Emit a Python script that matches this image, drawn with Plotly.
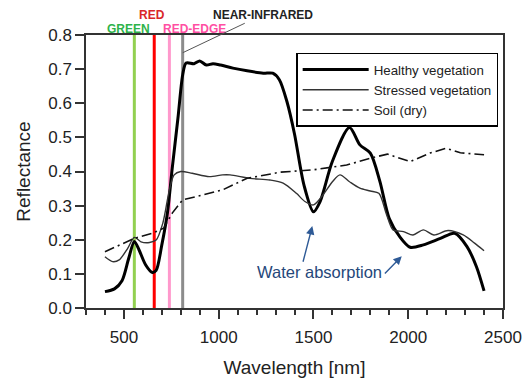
import plotly.graph_objects as go

# Data
healthy_wl = [400, 450, 490, 525, 555, 580, 615, 650, 670, 700, 730, 755, 785, 810, 828, 870, 900,
              935, 970, 1010, 1075, 1150, 1235, 1285, 1320, 1360, 1400, 1450, 1500, 1535, 1600,
              1690, 1745, 1800, 1850, 1900, 1955, 2010, 2080, 2170, 2245, 2310, 2360, 2400]
healthy_val = [0.048, 0.056, 0.080, 0.145, 0.195, 0.170, 0.126, 0.104, 0.110, 0.185, 0.280, 0.410,
               0.556, 0.683, 0.718, 0.716, 0.724, 0.712, 0.716, 0.712, 0.703, 0.695, 0.688, 0.688,
               0.669, 0.605, 0.510, 0.360, 0.282, 0.312, 0.430, 0.529, 0.478, 0.454, 0.372, 0.262,
               0.209, 0.178, 0.185, 0.204, 0.219, 0.180, 0.121, 0.050]

stressed_wl = [400, 440, 475, 520, 555, 590, 635, 670, 705, 740, 765, 800, 860, 950, 1020, 1060,
               1165, 1270, 1340, 1410, 1455, 1500, 1550, 1600, 1640, 1690, 1745, 1800, 1845, 1885,
               1920, 1975, 2025, 2080, 2135, 2210, 2290, 2350, 2400]
stressed_val = [0.150, 0.136, 0.141, 0.175, 0.207, 0.194, 0.192, 0.199, 0.248, 0.346, 0.390, 0.400,
                0.395, 0.385, 0.390, 0.390, 0.380, 0.375, 0.366, 0.336, 0.312, 0.302, 0.331, 0.370,
                0.390, 0.370, 0.351, 0.343, 0.336, 0.275, 0.229, 0.224, 0.214, 0.229, 0.214, 0.227,
                0.214, 0.190, 0.168]

soil_wl = [400, 475, 555, 650, 710, 755, 810, 880, 1020, 1150, 1325, 1500, 1675, 1800, 1890,
           2010, 2115, 2200, 2275, 2400]
soil_val = [0.165, 0.185, 0.204, 0.219, 0.234, 0.278, 0.317, 0.326, 0.346, 0.380, 0.398, 0.405,
            0.419, 0.439, 0.451, 0.429, 0.454, 0.468, 0.455, 0.449]

band_names = ["GREEN", "RED", "RED-EDGE", "NEAR-INFRARED"]
band_wl = [555, 660, 740, 810]
band_line_colors = ["#92d050", "#ff0000", "#ff99cc", "#8c8c8c"]
band_text_colors = ["#2eb34a", "#d9262a", "#ff4fa3", "#222222"]

x_ticks = [500, 1000, 1500, 2000, 2500]
y_ticks = [0.0, 0.1, 0.2, 0.3, 0.4, 0.5, 0.6, 0.7, 0.8]

FONT = "Arial, Liberation Sans, sans-serif"

fig = go.Figure()

# Band lines (drawn below curves)
for wl, col in zip(band_wl, band_line_colors):
    fig.add_shape(type="line", xref="x", yref="y", x0=wl, x1=wl, y0=0, y1=0.8,
                  line=dict(color=col, width=3), layer="below")

fig.add_trace(go.Scatter(x=healthy_wl, y=healthy_val, mode="lines", name="Healthy vegetation",
                         line=dict(color="black", width=3, shape="spline", smoothing=0.8)))
fig.add_trace(go.Scatter(x=stressed_wl, y=stressed_val, mode="lines", name="Stressed vegetation",
                         line=dict(color="#333333", width=1.4, shape="spline", smoothing=0.8)))
fig.add_trace(go.Scatter(x=soil_wl, y=soil_val, mode="lines", name="Soil (dry)",
                         line=dict(color="#111111", width=1.6, dash="10px,4px,2px,4px")))

# Band labels
label_pos = {"GREEN": (522, 1.022), "RED": (648, 1.073), "RED-EDGE": (875, 1.022)}
for name, col in zip(band_names, band_text_colors):
    if name in label_pos:
        x, y = label_pos[name]
        fig.add_annotation(x=x, y=y, xref="x", yref="paper", yanchor="middle",
                           text=f"<b>{name}</b>", showarrow=False,
                           font=dict(family=FONT, size=12, color=col))
fig.add_annotation(x=band_wl[3], y=0.748, xref="x", yref="y", text="<b>NEAR-INFRARED</b>",
                   showarrow=True, arrowhead=0, arrowwidth=1, arrowcolor="#555555",
                   ax=80, ay=-38, font=dict(family=FONT, size=12, color=band_text_colors[3]))

# Water absorption
fig.add_annotation(x=1530, y=0.106, xref="x", yref="y", text="Water absorption", showarrow=False,
                   font=dict(family=FONT, size=16.5, color="#25477a"))
for (tx, ty, hx, hy) in [(1443, 0.131, 1494, 0.240), (1869, 0.097, 1966, 0.152)]:
    fig.add_annotation(x=hx, y=hy, ax=tx, ay=ty, xref="x", yref="y", axref="x", ayref="y",
                       text="", showarrow=True, arrowhead=2, arrowsize=1.2, arrowwidth=1.4,
                       arrowcolor="#2e5a96")

fig.update_layout(
    width=527, height=378,
    margin=dict(l=86, r=24, t=35, b=70),
    paper_bgcolor="white", plot_bgcolor="white",
    font=dict(family=FONT, color="#222222"),
    showlegend=True,
    legend=dict(x=0.504, y=0.935, xanchor="left", yanchor="top",
                bordercolor="black", borderwidth=1.5, bgcolor="white",
                font=dict(family=FONT, size=13.3, color="#222222"),
                itemwidth=66, entrywidth=209, tracegroupgap=0),
    xaxis=dict(range=[300, 2500], tickvals=x_ticks, ticks="outside", ticklen=9, tickwidth=1.5,
               tickcolor="#333333", showline=True, linecolor="#333333", linewidth=1.5,
               mirror=True, showgrid=False, zeroline=False, ticklabelstandoff=4,
               automargin=False,
               tickfont=dict(family=FONT, size=17, color="#222222"),
               minor=dict(dtick=100, ticks="outside", ticklen=5, tickcolor="#333333", showgrid=False),
               title=dict(text="Wavelength [nm]", font=dict(family=FONT, size=19, color="#222222"),
                          standoff=16)),
    yaxis=dict(range=[0, 0.8], tickvals=y_ticks, tickformat=".1f", ticks="outside", ticklen=9,
               tickwidth=1.5, tickcolor="#333333", showline=True, linecolor="#333333",
               linewidth=1.5, mirror=True, showgrid=False, zeroline=False, automargin=False,
               tickfont=dict(family=FONT, size=17, color="#222222"),
               title=dict(text="Reflectance", font=dict(family=FONT, size=19, color="#222222"),
                          standoff=13)),
)

fig.write_html("out.html")
